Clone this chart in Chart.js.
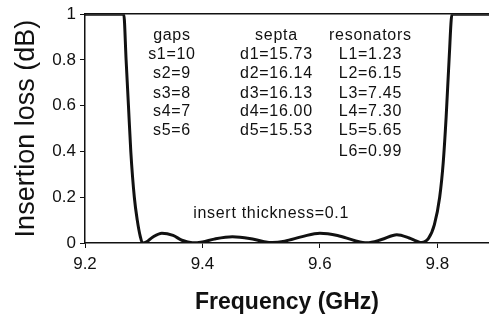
<!DOCTYPE html>
<html>
<head>
<meta charset="utf-8">
<script src="https://cdn.jsdelivr.net/npm/chart.js@4.4.0/dist/chart.umd.min.js"></script>
<style>
  html, body { margin: 0; padding: 0; background: #fff; }
  #wrap { width: 489px; height: 320px; }
</style>
</head>
<body>
<div id="wrap"><canvas id="chart"></canvas></div>
<script>
// frequência (GHz) e perda de inserção (dB)
const freq = [9.2, 9.24, 9.262, 9.266, 9.270, 9.274, 9.278, 9.284, 9.289, 9.294, 9.298, 9.305, 9.315, 9.331, 9.35, 9.365, 9.383, 9.40, 9.42, 9.451, 9.48, 9.505, 9.519, 9.54, 9.57, 9.60, 9.63, 9.66, 9.68, 9.705, 9.731, 9.752, 9.765, 9.773, 9.785, 9.795, 9.804, 9.810, 9.815, 9.820, 9.825, 9.83, 9.86, 9.888];
const loss = [1, 1, 1, 1, 0.8, 0.6, 0.4, 0.2, 0.1, 0.03, 0, 0.005, 0.025, 0.043, 0.033, 0.012, 0.001, 0.005, 0.017, 0.027, 0.02, 0.006, 0.002, 0.008, 0.028, 0.043, 0.033, 0.01, 0.001, 0.015, 0.036, 0.022, 0.008, 0.002, 0.02, 0.08, 0.2, 0.35, 0.55, 0.8, 1, 1, 1, 1];

const xTicks = [9.2, 9.4, 9.6, 9.8];
const yTicks = [0, 0.2, 0.4, 0.6, 0.8, 1];

// textos do gráfico
const gaps = ['gaps', 's1=10', 's2=9', 's3=8', 's4=7', 's5=6'];
const septa = ['septa', 'd1=15.73', 'd2=16.14', 'd3=16.13', 'd4=16.00', 'd5=15.53'];
const resonators = ['resonators', 'L1=1.23', 'L2=6.15', 'L3=7.45', 'L4=7.30', 'L5=5.65', 'L6=0.99'];
const insertNote = 'insert thickness=0.1';

const FONT = 'Arial, "Liberation Sans", sans-serif';

// plugin para escrever as anotações dentro do gráfico
const notes = {
  id: 'notes',
  afterDatasetsDraw(chart) {
    const { ctx } = chart;
    const x = chart.scales.x, y = chart.scales.y;
    ctx.save();
    ctx.fillStyle = '#111';
    ctx.font = '16px ' + FONT;
    ctx.letterSpacing = '0.7px';
    ctx.textAlign = 'center';
    ctx.textBaseline = 'middle';
    const rowsY = [0.905, 0.823, 0.741, 0.655, 0.573, 0.491, 0.401];
    const cols = [[gaps, 9.348], [septa, 9.526], [resonators, 9.686]];
    cols.forEach(([list, cx]) => {
      list.forEach((t, i) => {
        ctx.fillText(t, x.getPixelForValue(cx), y.getPixelForValue(rowsY[i]));
      });
    });
    ctx.fillText(insertNote, x.getPixelForValue(9.517), y.getPixelForValue(0.129));
    ctx.restore();
  }
};

new Chart(document.getElementById('chart'), {
  type: 'line',
  data: {
    datasets: [{
      data: freq.map((f, i) => ({ x: f, y: loss[i] })),
      borderColor: '#111',
      borderWidth: 3,
      pointRadius: 0,
      cubicInterpolationMode: 'monotone',
      fill: false
    }]
  },
  options: {
    responsive: true,
    maintainAspectRatio: false,
    animation: false,
    layout: { padding: { top: 11, right: 0, left: 0, bottom: 0 } },
    plugins: { legend: { display: false }, tooltip: { enabled: false } },
    scales: {
      x: {
        type: 'linear',
        min: 9.2,
        max: 9.888,
        afterBuildTicks: s => { s.ticks = xTicks.map(v => ({ value: v })); },
        afterFit: s => { s.height = 77; },
        border: { color: '#111', width: 1.5 },
        grid: { drawOnChartArea: false, color: '#111', tickLength: 5 },
        ticks: { color: '#111', font: { family: FONT, size: 17 }, padding: 6, maxRotation: 0, callback: v => v.toFixed(1) },
        title: { display: true, text: 'Frequency (GHz)', color: '#111', font: { family: FONT, size: 23, weight: 'bold' }, padding: { top: 8 } }
      },
      xTop: {
        type: 'linear',
        position: 'top',
        min: 9.2,
        max: 9.888,
        afterFit: s => { s.height = 0; },
        border: { color: '#111', width: 1.5 },
        grid: { display: false },
        ticks: { display: false }
      },
      y: {
        min: 0,
        max: 1,
        afterBuildTicks: s => { s.ticks = yTicks.map(v => ({ value: v })); },
        afterFit: s => { s.width = 85; },
        border: { color: '#111', width: 1.5 },
        grid: { drawOnChartArea: false, color: '#111', tickLength: 5 },
        ticks: { color: '#111', font: { family: FONT, size: 17 }, padding: 4, callback: v => v === 0 || v === 1 ? String(v) : v.toFixed(1) },
        title: { display: true, text: 'Insertion loss (dB)', color: '#111', font: { family: FONT, size: 27 }, padding: { top: 10, bottom: 0 } }
      }
    }
  },
  plugins: [notes]
});
</script>
</body>
</html>
